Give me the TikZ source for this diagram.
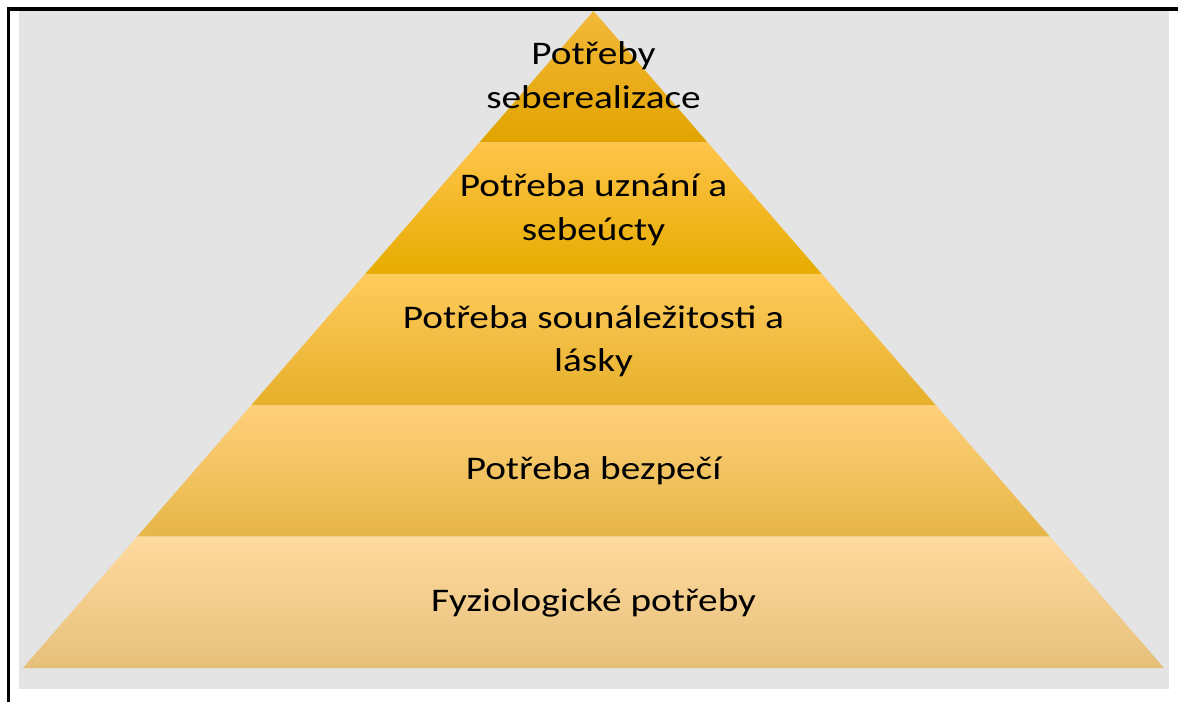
\documentclass[tikz,border=0pt]{standalone}
\usepackage{fontspec}
\setmainfont{Carlito}[FakeStretch=1.19]
\usetikzlibrary{calc}

\definecolor{bggray}{HTML}{E4E4E4}
\definecolor{pyrTop1}{HTML}{F2B83A}
\definecolor{pyrMid1}{HTML}{F4B300}
\definecolor{pyrBot1}{HTML}{E2A400}
\definecolor{pyrTop2}{HTML}{FFC44A}
\definecolor{pyrMid2}{HTML}{FFC20E}
\definecolor{pyrBot2}{HTML}{E6AC00}
\definecolor{pyrTop3}{HTML}{FFCB5C}
\definecolor{pyrMid3}{HTML}{FFC83C}
\definecolor{pyrBot3}{HTML}{E6B02A}
\definecolor{pyrTop4}{HTML}{FFD07A}
\definecolor{pyrMid4}{HTML}{FFCB62}
\definecolor{pyrBot4}{HTML}{E6B648}
\definecolor{pyrTop5}{HTML}{FFDA9E}
\definecolor{pyrMid5}{HTML}{FAD58E}
\definecolor{pyrBot5}{HTML}{E6C07A}

\tikzset{
  levellabel/.style={font=\fontsize{33}{43.5}\selectfont, align=center, text=black, inner sep=0pt, anchor=base}
}

\begin{document}
\begin{tikzpicture}[x=1pt, y=-1pt]
        \useasboundingbox (0,0) rectangle (1178,702);
        \fill[bggray] (19,10) rectangle (1169,689);
        \draw[line width=3.5pt] (7,8.75) -- (1178,8.75);
        \draw[line width=2.7pt] (8.6,7) -- (8.6,702);

        \coordinate (apex) at (593.5,11);
        \coordinate (baseL) at (23,668);
        \coordinate (baseR) at (1164,668);

        \foreach \i [evaluate=\i as \a using (\i-1)/5, evaluate=\i as \b using \i/5] in {1,...,5} {
            \shade[top color=pyrTop\i, middle color=pyrMid\i, bottom color=pyrBot\i]
                ($(apex)!\a!(baseL)$) -- ($(apex)!\b!(baseL)$) -- ($(apex)!\b!(baseR)$) -- ($(apex)!\a!(baseR)$) -- cycle;
        }

        % anchor=base: last baseline of each label
        \node[levellabel] (selfreal) at (593.5,108) {Potřeby\\seberealizace};
        \node[levellabel] (esteem) at (593.5,240) {Potřeba uznání a\\sebeúcty};
        \node[levellabel] (belonging) at (593.5,371.7) {Potřeba sounáležitosti a\\lásky};
        \node[levellabel] (safety) at (593.5,479) {Potřeba bezpečí};
        \node[levellabel] (physio) at (593.5,611.7) {Fyziologické potřeby};
    \end{tikzpicture}
\end{document}
